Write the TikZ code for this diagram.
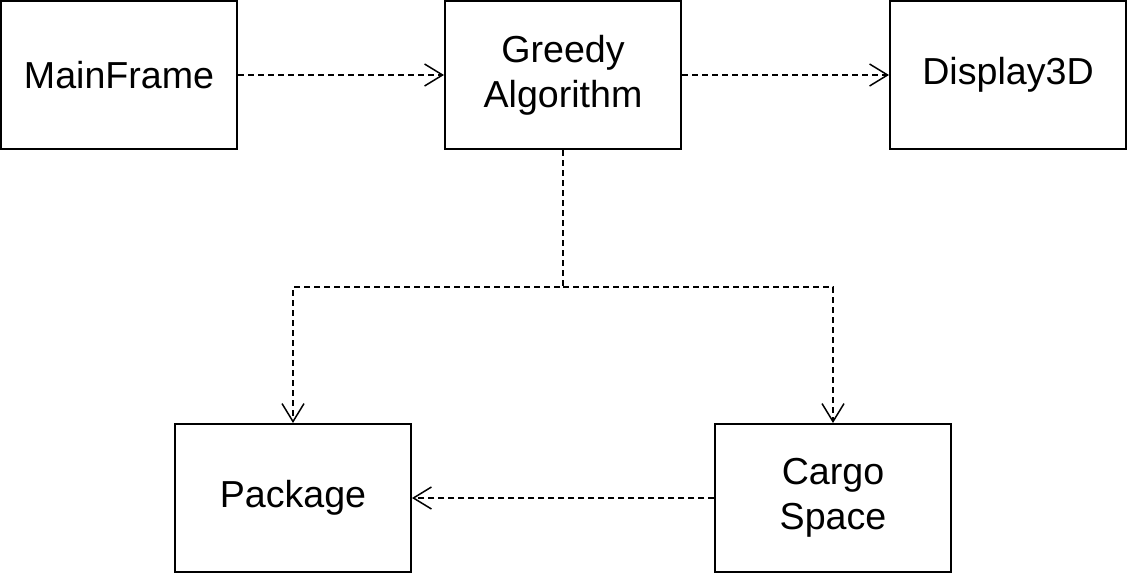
\documentclass[tikz,border=0pt]{standalone}
\usepackage{fontspec}
\setmainfont{Liberation Sans}
\usetikzlibrary{positioning,arrows.meta}

\begin{document}
\begin{tikzpicture}[node distance=222pt,on grid,
	box/.style={draw,line width=1pt,minimum width=118pt,minimum height=74pt,align=center,
		font=\fontsize{18.8}{22.5}\selectfont},
	dep/.style={line width=0.75pt,dash pattern=on 3pt off 2pt,-{Straight Barb[length=9pt,width=11pt]}}]
	\useasboundingbox (0,0) rectangle (563.5pt,-286.5pt);
	\node[box] (main) at (59.5pt,-37.5pt) {MainFrame};
	\node[box] (greedy) [right=of main] {Greedy\\Algorithm};
	\node[box] (display) [right=222.5pt of greedy] {Display3D};
	\node[box] (package) [below left=211.5pt and 135pt of greedy] {Package};
	\node[box] (cargo) [below right=211.5pt and 135pt of greedy] {Cargo\\Space};
	\node[coordinate] (split) [below=106pt of greedy] {};
	\draw[dep] (main) -- (greedy);
	\draw[dep] (greedy) -- (display);
	\draw[dep] (greedy) -- (split) -| (package);
	\draw[dep] (split) -| (cargo);
	\draw[dep] (cargo) -- (package);
\end{tikzpicture}
\end{document}
